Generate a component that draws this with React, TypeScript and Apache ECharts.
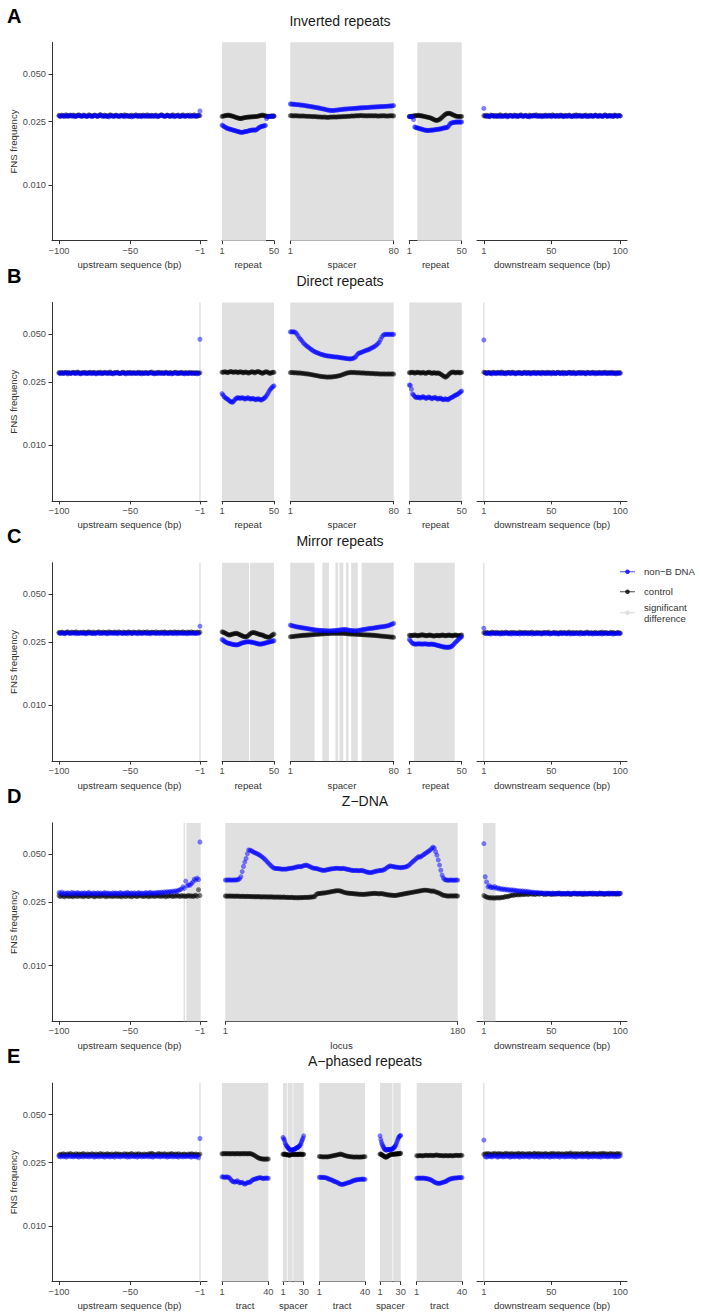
import React, { useEffect, useRef } from "react";
import * as echarts from "echarts";

// All series values below are FNS frequency in units of 1e-4 (e.g. 272 = 0.0272)
const UNIT = 1e-4;
const Y_TICKS = [0.01, 0.025, 0.05];

// ---------- Row A: Inverted repeats ----------
const A_up_nonB = [
  272,270,273,271,274,272,270,273,275,271, 272,269,271,274,272,273,270,272,274,271,
  270,273,272,269,271,274,273,270,272,275, 271,272,270,273,271,268,272,274,271,270,
  272,273,270,271,274,272,269,271,273,272, 270,268,271,273,272,270,274,271,269,272,
  273,271,270,272,274,271,270,273,272,269, 271,273,275,272,270,271,274,272,270,273,
  271,269,272,274,271,270,273,272,270,271, 274,272,270,273,271,272,270,274,273,292];
const A_up_ctrl = [
  274,271,275,272,270,276,273,271,274,272, 275,273,270,274,276,272,271,275,273,270,
  272,276,274,271,273,275,272,270,274,277, 273,271,275,272,270,274,276,272,271,273,
  275,272,270,274,273,271,276,274,272,270, 273,275,271,272,276,273,270,274,272,275,
  271,273,276,272,270,274,273,271,275,272, 270,274,276,273,271,272,275,273,270,274,
  276,272,271,273,275,270,272,276,273,271, 274,272,275,271,273,276,272,270,274,273];
const A_r1_nonB = [
  238,236,233,231,229,227,226,225,224,223, 222,221,220,219,218,217,216,215,214,214,
  215,216,217,217,218,219,220,221,221,222, 222,221,222,224,227,230,232,233,234,235,
  236,237,262,268,270,271,270,271,270,271];
const A_r1_ctrl = [
  270,271,272,273,274,274,275,274,273,272, 271,270,268,266,265,264,263,262,262,263,
  264,265,266,266,267,268,267,268,269,268, 269,270,269,270,271,272,273,274,275,274,
  273,272,271,270,271,270,271,272,271,272];
const A_sp_nonB = [
  323,323,322,322,321,320,320,319,318,318, 317,316,315,314,313,312,311,310,309,308,
  307,306,305,303,302,301,300,298,297,296, 295,294,294,294,295,296,296,297,298,298,
  299,300,300,301,301,302,302,302,303,303, 304,304,305,305,306,306,306,307,307,307,
  308,308,309,309,309,310,310,310,311,311, 311,312,312,312,313,313,314,314,315,316];
const A_sp_ctrl = [
  273,273,272,272,273,272,272,271,272,271, 272,271,271,270,271,270,270,269,270,269,
  269,268,268,268,267,267,268,267,266,266, 267,268,267,268,268,267,268,269,268,269,
  269,270,269,270,271,270,271,272,271,272, 272,273,272,273,274,273,272,273,272,272,
  273,272,273,272,272,273,272,271,272,272, 272,273,272,272,271,272,272,273,272,272];
const A_r2_nonB = [
  269,269,268,268,258,232,230,229,228,227, 226,225,224,223,222,221,221,220,220,221,
  221,222,221,222,223,223,224,224,225,225, 226,227,228,229,229,230,231,236,242,245,
  246,247,248,248,249,249,249,249,249,249];
const A_r2_ctrl = [
  270,270,271,271,272,272,273,273,274,274, 273,272,272,271,270,269,268,267,266,265,
  264,262,260,258,256,255,255,256,258,261, 264,268,272,276,279,281,282,283,282,280,
  278,276,274,272,271,270,270,269,270,270];
const A_dn_nonB = [
  303,273,270,272,269,271,274,272,270,271, 273,271,269,272,270,273,271,268,272,274,
  271,270,272,273,269,271,274,272,270,271, 273,272,270,268,271,273,272,274,271,270,
  272,271,269,273,272,270,271,274,272,269, 271,273,270,272,271,274,273,270,269,272,
  271,270,273,272,270,271,273,269,272,274, 271,270,272,273,271,269,272,270,273,271,
  272,274,271,270,272,273,270,271,274,272, 270,273,271,272,270,274,272,271,273,272];
const A_dn_ctrl = [
  273,271,274,272,270,275,273,271,274,272, 270,274,276,272,271,273,275,272,270,274,
  273,271,275,272,274,270,273,276,272,271, 274,272,270,275,273,271,274,272,276,273,
  271,274,272,270,273,275,272,271,274,272, 276,273,271,274,272,270,275,273,271,274,
  272,273,275,271,270,274,272,276,273,271, 274,272,270,273,275,272,271,274,273,270,
  272,275,273,271,274,272,270,273,276,272, 271,274,272,273,270,275,273,271,274,272];

// ---------- Row B: Direct repeats ----------
const B_up_nonB = [
  284,282,285,283,286,284,281,285,283,284, 286,283,282,285,284,281,283,286,284,282,
  285,283,284,282,286,283,281,284,285,283, 282,284,286,283,285,282,284,283,281,285,
  284,286,283,282,284,285,283,281,284,286, 283,282,285,284,283,286,282,284,281,283,
  285,284,282,283,286,284,283,281,285,282, 284,283,285,282,284,286,283,282,284,281,
  283,285,284,282,283,286,284,283,281,284, 282,285,283,284,282,283,285,281,283,464];
const B_up_ctrl = [
  286,284,287,283,285,288,284,286,283,285, 287,284,286,289,285,283,286,284,287,285,
  283,286,288,284,285,287,283,286,284,288, 285,283,287,285,284,286,289,284,283,286,
  285,287,284,283,286,288,285,284,286,283, 287,285,284,286,283,285,288,284,286,285,
  283,287,285,284,286,289,284,285,283,286, 288,285,284,286,283,287,285,284,286,285,
  283,286,288,284,285,283,287,285,284,286, 285,283,287,284,286,285,283,286,284,285];
const B_r1_nonB = [
  211,207,202,199,197,195,193,190,188,187, 186,189,193,196,198,199,198,197,198,199,
  198,196,195,197,199,198,196,195,196,197, 196,194,193,195,196,195,193,192,194,196,
  198,201,205,210,216,222,226,230,234,236];
const B_r1_ctrl = [
  288,287,289,290,288,286,287,289,291,290, 288,287,289,290,288,286,288,290,289,287,
  285,287,289,288,286,284,286,288,290,289, 287,285,288,290,291,289,287,285,283,285,
  287,289,290,288,285,283,284,286,288,287];
const B_sp_nonB = [
  516,516,516,516,512,500,486,472,462,452, 440,432,424,418,412,406,400,395,390,386,
  383,380,377,374,372,370,368,366,365,364, 363,362,361,360,359,359,358,357,356,355,
  354,353,352,351,350,349,349,350,352,355, 360,370,378,380,383,386,389,392,395,397,
  400,404,408,412,416,421,428,436,445,462, 480,492,498,498,498,498,498,498,498,498];
const B_sp_ctrl = [
  286,287,286,285,286,285,284,285,284,283, 283,282,281,281,280,279,278,277,276,275,
  274,273,272,271,270,270,269,269,268,268, 269,268,269,270,270,271,272,273,274,276,
  278,280,282,284,285,286,287,287,286,287, 286,285,286,285,285,284,285,284,283,284,
  283,283,282,283,282,281,282,281,281,280, 281,280,281,280,280,281,280,280,281,280];
const B_r2_nonB = [
  239,238,225,210,207,203,200,199,201,200, 198,199,201,202,200,198,197,199,201,200,
  198,196,197,199,200,198,196,195,197,198, 196,194,193,195,196,194,193,195,197,199,
  200,202,204,206,207,209,211,214,217,219];
const B_r2_ctrl = [
  286,285,287,288,286,284,285,287,288,286, 285,284,286,287,285,283,284,286,288,287,
  285,283,284,286,285,283,284,285,283,281, 278,275,272,269,268,270,274,279,283,286,
  288,289,287,285,286,288,287,285,286,287];
const B_dn_nonB = [
  459,285,282,284,286,283,281,284,285,282, 284,286,283,282,285,283,281,284,286,283,
  282,285,284,281,283,286,284,282,283,285, 284,282,286,283,281,284,285,283,282,284,
  286,283,281,285,284,282,283,286,284,281, 283,285,282,284,286,283,282,284,281,285,
  283,284,286,282,283,285,281,284,283,286, 282,284,285,283,281,284,286,283,282,285,
  284,281,283,286,284,282,285,283,284,282, 286,283,285,282,284,283,281,285,284,283];
const B_dn_ctrl = [
  288,286,284,287,285,283,286,288,284,285, 287,284,286,289,285,283,286,285,287,284,
  286,288,285,283,286,284,287,285,283,286, 288,284,285,287,283,286,285,288,284,286,
  285,283,287,286,284,285,288,283,286,284, 287,285,283,286,288,284,285,287,284,286,
  283,285,288,286,284,287,285,283,286,285, 287,284,286,285,283,288,285,284,286,287,
  284,286,285,283,287,285,284,286,288,285, 283,286,284,287,285,284,286,283,285,286];

// ---------- Row C: Mirror repeats ----------
const C_up_nonB = [
  285,283,286,284,282,285,287,284,283,285, 286,284,282,285,283,286,284,285,283,282,
  284,286,285,283,284,282,285,287,284,283, 285,284,286,283,282,285,284,286,283,285,
  284,282,285,286,284,283,285,284,282,286, 285,283,284,286,285,282,284,285,283,284,
  286,284,283,285,282,284,286,285,283,284, 285,283,286,284,282,285,284,283,286,284,
  283,285,284,282,286,284,285,283,284,285, 282,284,286,283,285,284,283,285,284,315];
const C_up_ctrl = [
  288,286,289,287,285,288,290,286,287,289, 286,288,290,287,285,288,286,289,287,286,
  288,290,287,286,289,287,285,288,290,287, 286,289,287,288,286,290,288,286,287,289,
  288,286,290,287,285,289,288,286,288,290, 287,286,289,288,286,287,290,288,286,289,
  287,288,290,286,287,289,288,286,290,287, 288,286,289,287,290,288,286,287,289,288,
  286,290,288,287,289,286,288,290,287,286, 289,288,286,290,287,288,286,289,287,288];
const C_r1_nonB = [
  260,257,254,251,249,247,246,245,244,243, 242,241,241,240,240,241,242,244,246,247,
  248,249,250,251,251,251,251,250,250,249, 248,247,246,245,244,243,243,243,244,245,
  246,247,248,249,250,251,252,253,254,255];
const C_r1_ctrl = [
  290,289,287,285,283,280,278,277,278,280, 281,282,283,284,284,282,280,278,276,274,
  272,271,270,270,272,276,280,284,286,287, 287,286,285,283,282,280,279,278,277,275,
  273,271,270,269,268,269,272,276,279,281];
const C_sp_nonB = [
  320,318,316,315,313,312,311,310,309,308, 307,306,305,304,303,302,301,300,299,298,
  298,297,297,296,296,296,295,295,295,294, 294,294,295,295,296,296,297,297,298,299,
  299,300,300,299,298,297,296,296,295,295, 294,295,296,297,298,299,300,301,302,303,
  304,305,305,306,307,308,309,310,311,312, 312,313,314,315,316,318,320,323,325,328];
const C_sp_ctrl = [
  270,271,271,272,273,273,274,274,275,275, 276,276,276,277,277,278,278,279,279,280,
  280,280,281,281,282,282,282,283,283,283, 283,284,284,284,284,284,284,284,284,284,
  284,284,283,283,282,282,281,281,281,281, 280,280,280,279,279,279,278,278,278,277,
  277,277,276,276,276,275,275,274,274,273, 273,272,272,271,271,270,270,269,269,268];
const C_r2_nonB = [
  260,255,250,246,244,243,243,243,244,244, 244,243,243,243,244,244,243,243,242,242,
  243,243,242,242,241,240,239,238,237,236, 235,234,233,233,232,232,232,232,233,234,
  236,240,244,248,252,256,260,264,267,270];
const C_r2_ctrl = [
  276,275,274,275,276,277,276,275,274,275, 276,277,278,277,276,275,274,275,276,277,
  276,275,274,273,274,275,276,275,274,275, 276,277,276,275,274,275,276,277,276,275,
  274,275,276,277,276,275,274,275,276,277];
const C_dn_nonB = [
  306,284,282,285,283,281,284,286,283,282, 285,283,281,284,282,285,283,286,282,284,
  281,283,285,282,284,283,281,285,283,282, 284,286,282,283,285,281,284,282,283,285,
  282,284,281,283,286,282,285,283,281,284, 283,285,282,284,281,283,285,282,284,286,
  282,283,285,281,284,282,283,285,282,284, 281,285,283,282,284,286,282,283,285,281,
  284,282,283,285,282,284,281,283,286,282, 284,283,285,282,281,284,283,285,282,284];
const C_dn_ctrl = [
  287,285,288,286,284,287,289,285,286,288, 285,287,284,288,286,285,289,286,284,287,
  286,288,285,287,284,286,289,285,287,286, 288,284,286,287,285,289,286,284,288,285,
  287,286,284,288,285,287,286,289,285,284, 286,288,285,287,284,286,288,285,287,286,
  284,287,289,285,286,288,284,287,286,285, 288,286,284,287,285,289,286,285,287,284,
  286,288,285,284,287,286,289,285,286,287, 285,284,288,286,287,285,284,288,286,285];

// ---------- Row D: Z-DNA ----------
const D_up_nonB = [
  288,284,290,282,286,283,287,285,282,289, 284,286,283,288,285,282,286,284,287,283,
  285,289,284,282,286,285,283,287,284,286, 282,285,288,284,286,283,285,282,287,284,
  286,284,283,288,285,282,286,284,289,285, 283,286,284,287,282,285,288,284,286,283,
  285,288,284,286,289,285,287,284,288,286, 289,286,290,287,291,288,292,289,293,290,
  294,291,296,293,298,300,303,313,306,340, 318,322,320,328,335,350,345,355,348,599];
const D_up_ctrl = [
  275,272,277,273,271,276,274,272,275,273, 271,276,274,272,277,273,275,271,274,276,
  273,272,275,277,273,271,274,276,272,275, 273,277,274,271,275,273,276,272,274,273,
  276,272,275,273,271,276,274,272,277,273, 275,271,274,276,273,272,275,277,273,274,
  272,276,274,271,275,273,277,272,274,276, 273,275,272,276,274,271,275,273,276,274,
  272,275,273,277,274,272,276,273,275,272, 274,276,273,275,272,274,277,273,300,276];
const D_loc_nonB = [
  345,345,345,346,345,345,345,346,345,346, 348,352,362,390,420,448,472,505,534,532,
  528,522,516,512,508,503,498,492,485,478, 470,462,452,443,435,426,419,412,409,408,
  408,407,406,405,404,404,405,404,406,408, 410,409,411,413,415,417,419,420,418,421,
  424,426,429,427,424,420,416,412,410,409, 408,406,404,401,399,398,397,398,400,402,
  403,405,406,407,408,409,410,409,408,407, 408,409,407,405,403,402,400,398,397,396,
  396,397,396,395,396,397,395,393,390,388, 386,385,384,386,388,390,392,394,395,396,
  397,398,400,404,410,416,420,424,422,420, 418,417,416,415,414,413,414,415,416,418,
  420,425,432,440,448,455,462,470,478,486, 480,487,494,500,507,514,520,527,534,545,
  556,548,520,495,462,429,398,370,355,348, 345,345,344,345,345,345,344,345,345,345];
const D_loc_ctrl = [
  274,274,273,274,274,273,274,273,273,274, 273,273,272,273,273,272,272,273,272,272,
  272,271,272,271,271,272,271,271,270,271, 271,270,271,270,270,271,270,270,269,270,
  270,269,270,269,269,270,269,268,269,268, 268,269,268,267,268,267,267,268,267,268,
  268,268,269,268,269,269,270,270,271,272, 280,283,284,284,285,286,286,287,288,289,
  290,291,292,293,294,295,296,296,295,294, 292,290,288,287,286,285,285,284,284,283,
  283,282,282,281,281,281,280,281,281,282, 282,283,283,284,284,285,284,284,283,283,
  284,283,282,281,280,279,278,278,277,277, 276,276,277,278,279,280,281,282,283,284,
  285,286,287,288,289,290,291,292,293,294, 295,296,297,298,298,298,297,296,295,293,
  295,293,291,289,287,285,282,279,277,276, 275,274,274,274,275,274,274,275,274,274];
const D_dn_nonB = [
  585,362,336,313,318,310,312,308,314,306, 309,303,306,301,304,300,303,298,301,297,
  300,296,299,295,297,293,296,292,295,291, 294,290,293,289,291,288,290,287,289,286,
  288,285,287,284,286,283,286,284,285,283, 286,284,282,285,283,286,284,282,285,283,
  284,286,283,285,282,284,286,283,285,284, 282,285,283,286,284,282,285,283,284,286,
  283,285,282,284,286,283,285,284,282,285, 283,286,284,282,285,283,284,286,283,285];
const D_dn_ctrl = [
  276,272,270,268,267,266,268,265,267,266, 268,266,267,269,268,270,272,271,273,275,
  276,278,277,279,280,278,281,279,282,280, 281,283,280,282,284,281,283,280,282,284,
  281,283,285,282,280,283,281,284,282,280, 283,281,284,282,285,283,281,284,282,283,
  281,284,282,280,283,285,282,284,281,283, 285,282,280,283,281,284,282,285,283,281,
  284,282,283,281,285,282,284,280,283,282, 284,281,283,285,282,284,281,283,282,284];

// ---------- Row E: A-phased repeats ----------
const E_up_nonB = [
  273,271,275,272,274,270,273,276,272,274, 271,273,275,272,270,274,273,271,275,272,
  274,271,273,276,272,270,274,273,271,275, 272,274,270,273,275,272,271,274,273,270,
  275,272,274,271,273,276,272,274,270,273, 271,275,273,272,274,270,273,275,271,274,
  272,273,275,271,274,272,270,273,276,272, 274,271,273,275,272,274,270,273,272,275,
  271,274,272,273,270,275,273,271,274,272, 273,275,272,270,274,273,271,274,268,354];
const E_up_ctrl = [
  279,282,280,284,281,279,283,281,285,280, 282,279,284,281,283,280,282,285,281,279,
  283,281,280,284,282,279,283,281,280,285, 281,283,279,282,284,280,281,283,279,282,
  284,281,283,280,282,279,284,281,283,280, 282,285,281,279,283,281,284,280,282,279,
  283,281,280,284,282,286,283,281,279,282, 285,281,283,280,284,282,279,283,281,285,
  282,280,283,281,284,279,282,280,283,281, 279,283,281,284,282,280,283,281,279,282];
const E_t1_nonB = [
  203,203,202,202,203,202,201,197,193,190, 189,188,190,192,188,186,187,188,185,183,
  184,186,188,187,189,192,195,196,197,198, 199,200,201,200,199,198,199,200,199,199];
const E_t1_ctrl = [
  284,284,285,284,284,285,284,284,284,285, 284,284,284,285,284,284,284,285,284,284,
  285,284,284,285,284,283,281,278,275,272, 269,267,265,264,263,263,262,263,263,263];
const E_s1_nonB = [
  360,352,346,333,324,318,314,310,306,303, 300,299,299,300,301,302,303,305,307,309,
  310,312,315,318,322,328,338,347,356,368];
const E_s1_ctrl = [
  282,281,283,282,280,279,281,280,278,277, 279,280,281,282,280,281,282,281,280,282,
  281,280,282,281,283,282,280,281,282,281];
const E_t2_nonB = [
  202,202,201,202,201,201,200,199,197,196, 195,193,192,190,189,188,186,184,183,182,
  182,183,184,185,186,187,188,189,191,192, 193,194,195,195,196,196,196,197,196,196];
const E_t2_ctrl = [
  273,272,272,271,271,272,271,271,272,273, 274,275,276,277,278,279,280,281,283,281,
  280,278,276,275,274,273,272,272,271,271, 270,271,271,270,271,270,271,271,272,272];
const E_s2_nonB = [
  368,350,336,326,318,312,306,302,300,299, 301,303,302,300,301,303,302,304,306,309,
  312,316,322,330,340,350,358,364,368,370];
const E_s2_ctrl = [
  282,283,281,279,277,275,273,271,270,270, 272,274,276,278,279,280,281,282,281,282,
  283,282,283,284,283,284,285,284,285,286];
const E_t3_nonB = [
  199,199,200,199,199,200,199,199,198,198, 197,196,195,193,191,189,187,186,185,185,
  185,186,187,188,189,190,192,194,196,197, 198,199,199,200,200,200,201,201,201,201];
const E_t3_ctrl = [
  276,275,276,277,276,275,276,277,278,277, 276,277,278,277,276,277,278,279,278,277,
  276,277,276,275,276,277,276,275,276,277, 276,275,276,277,278,277,276,277,278,277];
const E_dn_nonB = [
  346,272,270,273,275,272,271,274,276,273, 270,272,275,273,271,274,272,276,273,270,
  272,274,271,273,275,272,270,274,273,271, 275,272,274,270,273,276,272,271,274,273,
  270,275,272,274,271,273,275,272,270,274, 273,271,276,272,274,270,273,275,272,271,
  274,272,273,275,271,274,272,270,273,276, 272,274,271,273,275,272,270,274,273,271,
  275,272,274,271,273,270,275,272,274,273, 271,274,272,276,273,271,274,272,273,275];
const E_dn_ctrl = [
  281,284,282,285,283,280,284,282,286,281, 283,285,282,284,281,283,286,282,284,281,
  285,283,282,284,281,286,283,282,285,283, 281,284,282,285,283,281,284,286,282,283,
  285,281,284,282,283,285,282,281,284,283, 286,282,284,281,285,283,282,284,281,283,
  285,282,284,287,283,281,285,282,284,283, 281,285,283,282,284,286,283,281,284,282,
  285,283,281,284,282,285,283,286,282,284, 281,283,285,282,284,281,283,285,282,284];

// ---------- significant-difference positions (inclusive ranges) ----------
const A_sig = { up: [], r1: [[1, 42]], sp: [[1, 80]], r2: [[9, 50]], dn: [] };
const B_sig = { up: [[-1, -1]], r1: [[1, 50]], sp: [[1, 80]], r2: [[1, 50]], dn: [[1, 1]] };
const C_sig = {
  up: [[-1, -1]], r1: [[1, 26], [28, 50]],
  sp: [[1, 19], [26, 30], [36, 37], [39, 41], [44, 45], [48, 52], [56, 80]],
  r2: [[6, 43]], dn: [[1, 1]],
};
const D_sig = { up: [[-12, -12], [-10, -1]], loc: [[1, 180]], dn: [[1, 9]] };
const E_sig = {
  up: [[-1, -1]], t1: [[1, 40]], s1: [[1, 6], [8, 14], [16, 30]], t2: [[1, 40]],
  s2: [[1, 18], [20, 30]], t3: [[1, 40]], dn: [[1, 1]],
};

// ---------- layout ----------
const FONT = "'Liberation Sans', Arial, Helvetica, sans-serif";
const ROW_OFFSET = [0, 260.2, 520.4, 780.6, 1040.8];
const PLOT_TOP = 42.3;
const PLOT_H = 198.4;
const Y_MIN = 0.00446;
const Y_MAX = 0.079;
const BLUE = "#0000ff";
const SIG_COLOR = "#e0e0e0";

type Panel = {
  left: number; width: number; start: number; pad: boolean; ticks: number[]; name: string;
  nonB: number[]; ctrl: number[]; sig: number[][];
};
type Row = { letter: string; title: string; titleX: number; panels: Panel[] };

const up = (nonB: number[], ctrl: number[], sig: number[][]): Panel => ({
  left: 52, width: 155, start: -100, pad: true, ticks: [-100, -50, -1],
  name: "upstream sequence (bp)", nonB, ctrl, sig,
});
const dn = (nonB: number[], ctrl: number[], sig: number[][]): Panel => ({
  left: 477, width: 150, start: 1, pad: true, ticks: [1, 50, 100],
  name: "downstream sequence (bp)", nonB, ctrl, sig,
});
const inner = (left: number, width: number, name: string, nonB: number[], ctrl: number[], sig: number[][]): Panel => ({
  left, width, start: 1, pad: false, ticks: [1, nonB.length], name, nonB, ctrl, sig,
});

const ROWS: Row[] = [
  { letter: "A", title: "Inverted repeats", titleX: 340, panels: [
    up(A_up_nonB, A_up_ctrl, A_sig.up),
    inner(222, 52, "repeat", A_r1_nonB, A_r1_ctrl, A_sig.r1),
    inner(290.3, 103.4, "spacer", A_sp_nonB, A_sp_ctrl, A_sig.sp),
    inner(409.3, 52.4, "repeat", A_r2_nonB, A_r2_ctrl, A_sig.r2),
    dn(A_dn_nonB, A_dn_ctrl, A_sig.dn),
  ]},
  { letter: "B", title: "Direct repeats", titleX: 340, panels: [
    up(B_up_nonB, B_up_ctrl, B_sig.up),
    inner(222, 52, "repeat", B_r1_nonB, B_r1_ctrl, B_sig.r1),
    inner(290.3, 103.4, "spacer", B_sp_nonB, B_sp_ctrl, B_sig.sp),
    inner(409.3, 52.4, "repeat", B_r2_nonB, B_r2_ctrl, B_sig.r2),
    dn(B_dn_nonB, B_dn_ctrl, B_sig.dn),
  ]},
  { letter: "C", title: "Mirror repeats", titleX: 340, panels: [
    up(C_up_nonB, C_up_ctrl, C_sig.up),
    inner(222, 52, "repeat", C_r1_nonB, C_r1_ctrl, C_sig.r1),
    inner(290.3, 103.4, "spacer", C_sp_nonB, C_sp_ctrl, C_sig.sp),
    inner(409.3, 52.4, "repeat", C_r2_nonB, C_r2_ctrl, C_sig.r2),
    dn(C_dn_nonB, C_dn_ctrl, C_sig.dn),
  ]},
  { letter: "D", title: "Z\u2212DNA", titleX: 365, panels: [
    up(D_up_nonB, D_up_ctrl, D_sig.up),
    inner(225.3, 232.4, "locus", D_loc_nonB, D_loc_ctrl, D_sig.loc),
    dn(D_dn_nonB, D_dn_ctrl, D_sig.dn),
  ]},
  { letter: "E", title: "A\u2212phased repeats", titleX: 365, panels: [
    up(E_up_nonB, E_up_ctrl, E_sig.up),
    inner(222, 46.3, "tract", E_t1_nonB, E_t1_ctrl, E_sig.t1),
    inner(283, 20.7, "spacer", E_s1_nonB, E_s1_ctrl, E_sig.s1),
    inner(319.3, 45.7, "tract", E_t2_nonB, E_t2_ctrl, E_sig.t2),
    inner(380, 20.7, "spacer", E_s2_nonB, E_s2_ctrl, E_sig.s2),
    inner(416.7, 45.3, "tract", E_t3_nonB, E_t3_ctrl, E_sig.t3),
    dn(E_dn_nonB, E_dn_ctrl, E_sig.dn),
  ]},
];

const fmtX = (v: number) => (v < 0 ? "\u2212" + Math.abs(v) : String(v));

function buildOption() {
  const grid: any[] = [];
  const xAxis: any[] = [];
  const yAxis: any[] = [];
  const series: any[] = [];
  const graphic: any[] = [];

  ROWS.forEach((row, ri) => {
    const off = ROW_OFFSET[ri];
    const top = PLOT_TOP + off;
    graphic.push({
      type: "text", x: 7, y: 15.5 + off,
      style: { text: row.letter, fill: "#000", fontSize: 20, fontWeight: "bold", fontFamily: FONT, textAlign: "left", textVerticalAlign: "middle" },
    });
    graphic.push({
      type: "text", x: row.titleX, y: 20.5 + off,
      style: { text: row.title, fill: "#1a1a1a", fontSize: 14, fontFamily: FONT, textAlign: "center", textVerticalAlign: "middle" },
    });

    row.panels.forEach((p, pi) => {
      const gi = grid.length;
      const n = p.nonB.length;
      const first = p.start;
      const last = p.start + n - 1;
      const pad = p.pad ? (last - first) * 0.05 : 0;
      const xmin = first - pad;
      const xmax = last + pad;
      grid.push({ left: p.left, top, width: p.width, height: PLOT_H, containLabel: false, outerBoundsMode: "none" });
      xAxis.push({
        type: "value", gridIndex: gi, min: xmin, max: xmax, position: "bottom",
        axisLine: { show: true, onZero: false, lineStyle: { color: "#333", width: 1 } },
        axisTick: { show: true, length: 3.5, customValues: p.ticks, lineStyle: { color: "#333", width: 1 } },
        axisLabel: { customValues: p.ticks, formatter: fmtX, color: "#4d4d4d", fontSize: 9.3, fontFamily: FONT, margin: 5.5 },
        splitLine: { show: false },
        name: p.name, nameLocation: "middle", nameGap: 19,
        nameTextStyle: { color: "#333", fontSize: 9.6, fontFamily: FONT },
      });
      const firstPanel = pi === 0;
      yAxis.push({
        type: "log", logBase: 10, gridIndex: gi, min: Y_MIN, max: Y_MAX, show: firstPanel, position: "left",
        axisLine: { show: true, onZero: false, lineStyle: { color: "#333", width: 1 } },
        axisTick: { show: true, length: 3.5, customValues: Y_TICKS, lineStyle: { color: "#333" } },
        axisLabel: { customValues: Y_TICKS, formatter: (v: number) => v.toFixed(3), color: "#4d4d4d", fontSize: 9.3, fontFamily: FONT, margin: 6 },
        splitLine: { show: false },
        minorTick: { show: false },
        name: firstPanel ? "FNS frequency" : "", nameLocation: "middle", nameGap: 33, nameRotate: 90,
        nameTextStyle: { color: "#333", fontSize: 9.6, fontFamily: FONT },
      });
      const sigData = p.sig.map(([a, b]) => [
        { xAxis: Math.max(a - 0.5, xmin) },
        { xAxis: Math.min(b + 0.5, xmax) },
      ]);
      series.push({
        type: "scatter", name: "control", xAxisIndex: gi, yAxisIndex: gi,
        data: p.ctrl.map((v, i) => [first + i, v * UNIT]),
        symbolSize: 5, itemStyle: { color: "#000", opacity: 0.5 }, z: 3,
        markArea: { silent: true, z: 1, itemStyle: { color: SIG_COLOR, borderWidth: 0 }, label: { show: false }, data: sigData },
      });
      series.push({
        type: "scatter", name: "non\u2212B DNA", xAxisIndex: gi, yAxisIndex: gi,
        data: p.nonB.map((v, i) => [first + i, v * UNIT]),
        symbolSize: 5, itemStyle: { color: BLUE, opacity: 0.5 }, z: 4,
      });
    });
  });

  // legend (beside row C)
  const legendItems = [
    { y: 571.7, color: BLUE, opacity: 0.6, text: "non\u2212B DNA", ty: 571.7 },
    { y: 591.7, color: "#000", opacity: 0.6, text: "control", ty: 591.7 },
    { y: 612.7, color: SIG_COLOR, opacity: 1, text: "significant\ndifference", ty: 613 },
  ];
  legendItems.forEach((it) => {
    graphic.push({ type: "line", shape: { x1: 620, y1: it.y, x2: 635, y2: it.y }, style: { stroke: it.color, lineWidth: 1.2, opacity: it.opacity } });
    graphic.push({ type: "circle", shape: { cx: 627.5, cy: it.y, r: 2.3 }, style: { fill: it.color, opacity: Math.min(1, it.opacity + 0.2) } });
    graphic.push({
      type: "text", x: 644, y: it.ty,
      style: { text: it.text, fill: "#333", fontSize: 9.6, lineHeight: 10.6, fontFamily: FONT, textAlign: "left", textVerticalAlign: "middle" },
    });
  });

  return {
    animation: false,
    backgroundColor: "#ffffff",
    textStyle: { fontFamily: FONT },
    grid, xAxis, yAxis, series, graphic,
  };
}

export default function App() {
  const ref = useRef<HTMLDivElement>(null);
  useEffect(() => {
    const chart = echarts.init(ref.current as HTMLDivElement, null, { renderer: "svg" });
    chart.setOption(buildOption());
    return () => chart.dispose();
  }, []);
  return (
    <div
      ref={ref}
      style={{ position: "absolute", left: 0, top: 0, width: 702, height: 1315 }}
    />
  );
}
